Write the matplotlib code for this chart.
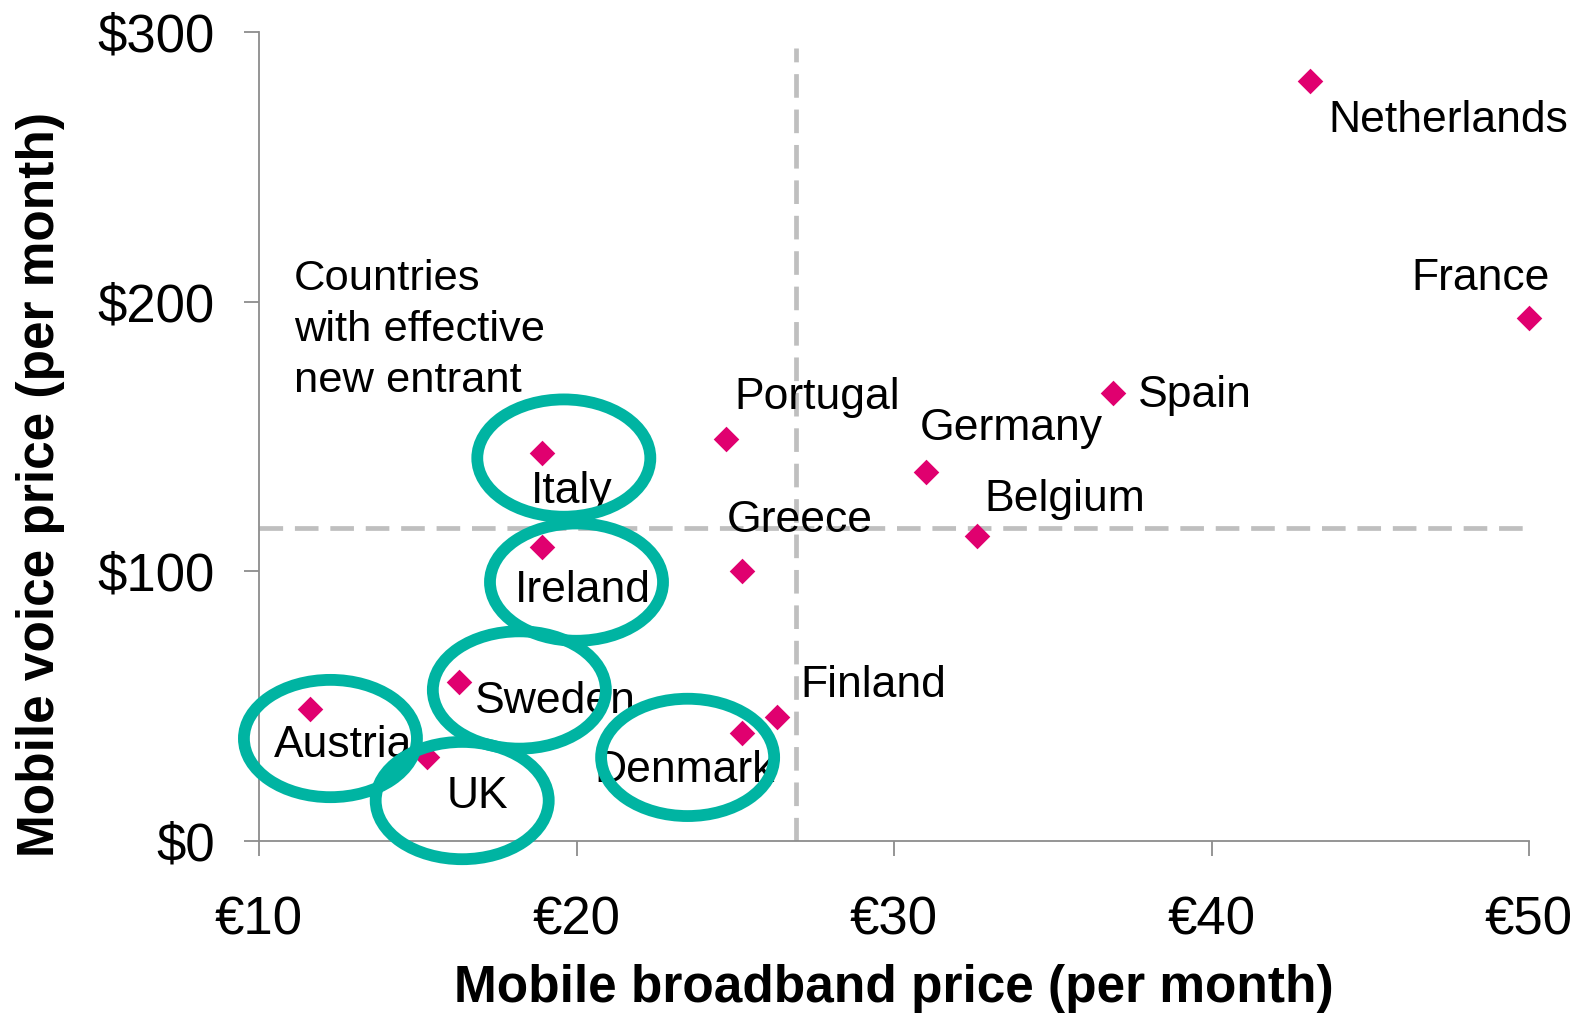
import matplotlib.pyplot as plt
from matplotlib.patches import Ellipse

plt.rcParams['font.family'] = ['Liberation Sans', 'DejaVu Sans']

# data
countries = ["Netherlands", "France", "Spain", "Germany", "Belgium", "Portugal",
             "Greece", "Finland", "Denmark", "Italy", "Ireland", "Sweden",
             "Austria", "UK"]
broadband_eur = [43.1, 50.0, 36.9, 31.0, 32.6, 24.7, 25.2, 26.3, 25.2, 18.9,
                 18.9, 16.3, 11.6, 15.3]
voice_usd = [282, 194, 166, 137, 113, 149, 100, 46, 40, 144, 109, 59, 49, 31]

x_ticks = [10, 20, 30, 40, 50]
y_ticks = [0, 100, 200, 300]
x_tick_labels = ["€10", "€20", "€30", "€40", "€50"]
y_tick_labels = ["$0", "$100", "$200", "$300"]

# averages (dashed guide lines)
avg_broadband = 26.9
avg_voice = 116

# countries with an effective new entrant (circled)
new_entrants = ["Italy", "Ireland", "Sweden", "Austria", "UK", "Denmark"]
circle_centres = {
    "Italy": (19.6, 142), "Ireland": (20.0, 96), "Sweden": (18.2, 56),
    "Austria": (12.25, 38), "UK": (16.4, 15), "Denmark": (23.5, 31),
}

# label offsets from the marker in pixels (dx, dy), horizontal alignment
label_offsets = {
    "Netherlands": (18, -40, "left"), "France": (21, 39, "right"),
    "Spain": (25, -2, "left"), "Germany": (-6, 43, "left"),
    "Belgium": (8, 37, "left"), "Portugal": (9, 42, "left"),
    "Greece": (-15, 51, "left"), "Finland": (24, 31, "left"),
    "Denmark": (-147, -37, "left"), "Italy": (-11, -39, "left"),
    "Ireland": (-27, -43, "left"), "Sweden": (16, -20, "left"),
    "Austria": (-36, -37, "left"), "UK": (19, -39, "left"),
}

pink = "#E0006F"
teal = "#00B4A2"
grid_grey = "#BFBFBF"

fig = plt.figure(figsize=(15.81, 10.19), dpi=100)
ax = fig.add_axes([259 / 1581, 1 - 841 / 1019, 1270 / 1581, 809 / 1019])

ax.set_xlim(10, 50)
ax.set_ylim(0, 300)

# dashed average lines
ax.plot([avg_broadband, avg_broadband], [0, 294], ls=(0, (5, 2.5)), lw=3.4,
        color=grid_grey, zorder=1)
ax.plot([10, 50], [avg_voice, avg_voice], ls=(0, (5, 2.5)), lw=3.4,
        color=grid_grey, zorder=1)

ax.scatter(broadband_eur, voice_usd, marker="D", s=170, color=pink,
           zorder=3, clip_on=False, linewidths=0)

for name, x, y in zip(countries, broadband_eur, voice_usd):
    dx, dy, ha = label_offsets[name]
    ax.annotate(name, (x, y), xytext=(dx, dy), textcoords="offset pixels",
                ha=ha, va="center", fontsize=32, zorder=4)

for name in new_entrants:
    cx, cy = circle_centres[name]
    ax.add_patch(Ellipse((cx, cy), 5.45, 43.5, fill=False, edgecolor=teal,
                         lw=8.5, zorder=5, clip_on=False))

ax.text(11.1, 215.8, "Countries\nwith effective\nnew entrant", fontsize=31.3,
        ha="left", va="top", linespacing=1.36)

ax.spines["top"].set_visible(False)
ax.spines["right"].set_visible(False)
for side in ("left", "bottom"):
    ax.spines[side].set_color("#8C8C8C")
    ax.spines[side].set_linewidth(1.3)

ax.set_xticks(x_ticks)
ax.set_xticklabels(x_tick_labels)
ax.set_yticks(y_ticks)
ax.set_yticklabels(y_tick_labels)
ax.tick_params(axis="both", direction="out", length=11, width=1.3,
               color="#8C8C8C", labelsize=38)
ax.tick_params(axis="x", pad=28)
ax.tick_params(axis="y", pad=21)

ax.set_xlabel("Mobile broadband price (per month)", fontsize=37,
              fontweight="bold")
ax.set_ylabel("Mobile voice price (per month)", fontsize=37,
              fontweight="bold")
ax.xaxis.set_label_coords(0.5, -0.152)
ax.yaxis.set_label_coords(-0.153, 0.441)

fig.savefig("out.png", dpi=100)
